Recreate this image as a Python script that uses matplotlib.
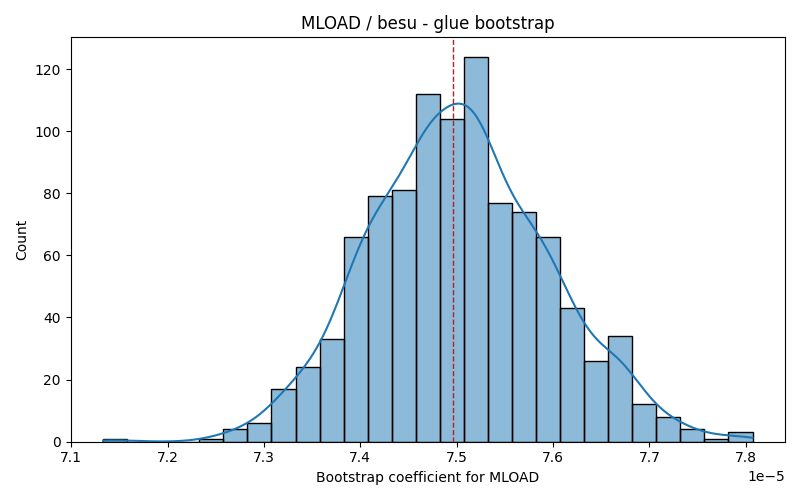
import numpy as np
import matplotlib
matplotlib.use("Agg")
from matplotlib import pyplot as plt

# histogram counts (27 equal-width bins)
counts = [1, 0, 0, 0, 1, 4, 6, 17, 24, 33, 66, 79, 81, 112, 104, 124, 77, 74, 66, 43, 26, 34, 12, 8, 4, 1, 3]
edge_lo = 7.1332e-5
edge_hi = 7.807e-5
mean_line = 7.4965e-5

edges = np.linspace(edge_lo, edge_hi, len(counts) + 1)
centers = (edges[:-1] + edges[1:]) / 2
width = edges[1] - edges[0]

fig, ax = plt.subplots(figsize=(8, 5), dpi=100)
ax.bar(centers, counts, width=width, color="#1f77b4", alpha=0.5, edgecolor="none")
ax.bar(centers, counts, width=width, fill=False, edgecolor="black", linewidth=1)

# kde of the binned data
w = np.array(counts, dtype=float)
n = w.sum()
mu = np.sum(w * centers) / n
sd = np.sqrt(np.sum(w * (centers - mu) ** 2) / n)
bw = sd * n ** (-0.2)
xs = np.linspace(edge_lo, edge_hi, 400)
dens = np.sum(w[:, None] * np.exp(-0.5 * ((xs[None, :] - centers[:, None]) / bw) ** 2), axis=0) / (n * bw * np.sqrt(2 * np.pi))
ax.plot(xs, dens * n * width, color="#1f77b4", linewidth=1.5)

ax.axvline(mean_line, color="#b22222", linestyle="--", linewidth=1)
ax.set_title("MLOAD / besu - glue bootstrap")
ax.set_xlabel("Bootstrap coefficient for MLOAD")
ax.set_ylabel("Count")
fig.tight_layout()
fig.savefig("out.png")
